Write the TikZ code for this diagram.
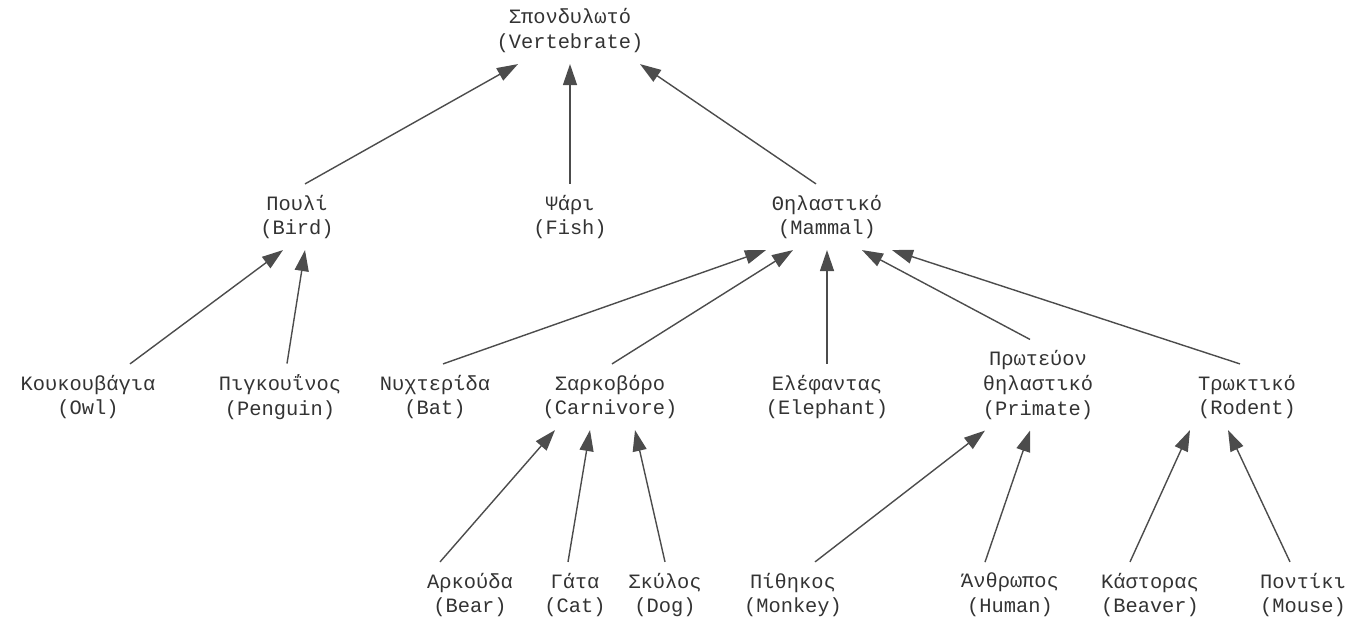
\documentclass[tikz,border=0pt]{standalone}
\usepackage{fontspec}
\setmonofont{Liberation Mono}
\usepackage{tikz}
\usetikzlibrary{arrows.meta, positioning}

\begin{document}
\begin{tikzpicture}[
    taxon/.style={align=center, inner sep=6pt, text=black!80, font=\ttfamily\fontsize{11.6}{14.2}\selectfont},
    line/.style={draw, black!70, line width=0.8pt, -{Triangle[length=4.2mm, width=2.8mm]}}]

    \useasboundingbox (0,0) rectangle (27,12.52);

    % Nodes
    \node [taxon] (vert) at (11.40,11.90) {Σπονδυλωτό\\(Vertebrate)};

    \node [taxon] (bird) at (5.94,8.18) {Πουλί\\(Bird)};
    \node [taxon] (fish) at (11.40,8.18) {Ψάρι\\(Fish)};
    \node [taxon] (mammal) at (16.54,8.18) {Θηλαστικό\\(Mammal)};

    \node [taxon] (owl) at (1.76,4.58) {Κουκουβάγια\\(Owl)};
    \node [taxon] (penguin) at (5.60,4.58) {Πιγκουΐνος\\(Penguin)};
    \node [taxon] (bat) at (8.70,4.58) {Νυχτερίδα\\(Bat)};
    \node [taxon] (carnivore) at (12.20,4.58) {Σαρκοβόρο\\(Carnivore)};
    \node [taxon] (elephant) at (16.54,4.58) {Ελέφαντας\\(Elephant)};
    \node [taxon] (primate) at (20.76,4.82) {Πρωτεύον\\θηλαστικό\\(Primate)};
    \node [taxon] (rodent) at (24.94,4.58) {Τρωκτικό\\(Rodent)};

    \node [taxon] (bear) at (9.40,0.62) {Αρκούδα\\(Bear)};
    \node [taxon] (cat) at (11.50,0.62) {Γάτα\\(Cat)};
    \node [taxon] (dog) at (13.30,0.62) {Σκύλος\\(Dog)};
    \node [taxon] (monkey) at (15.86,0.62) {Πίθηκος\\(Monkey)};
    \node [taxon] (human) at (20.20,0.62) {Άνθρωπος\\(Human)};
    \node [taxon] (beaver) at (23.00,0.62) {Κάστορας\\(Beaver)};
    \node [taxon] (mouse) at (26.06,0.62) {Ποντίκι\\(Mouse)};

    % Paths
    \path [line] ([xshift=0.16cm]bird.north) -- ([xshift=-1.04cm]vert.south);
    \path [line] (fish.north) -- (vert.south);
    \path [line] ([xshift=-0.22cm]mammal.north) -- ([xshift=1.40cm]vert.south);

    \path [line] ([xshift=0.84cm]owl.north) -- ([xshift=-0.28cm]bird.south);
    \path [line] ([xshift=0.14cm]penguin.north) -- ([xshift=0.16cm]bird.south);

    \path [line] ([xshift=0.16cm]bat.north) -- ([xshift=-1.22cm]mammal.south);
    \path [line] ([xshift=0.04cm]carnivore.north) -- ([xshift=-0.68cm]mammal.south);
    \path [line] (elephant.north) -- (mammal.south);
    \path [line] ([xshift=-0.16cm]primate.north) -- ([xshift=0.70cm]mammal.south);
    \path [line] ([xshift=-0.14cm]rodent.north) -- ([xshift=1.30cm]mammal.south);

    \path [line] ([xshift=-0.60cm]bear.north) -- ([xshift=-1.10cm]carnivore.south);
    \path [line] ([xshift=-0.14cm]cat.north) -- ([xshift=-0.40cm]carnivore.south);
    \path [line] (dog.north) -- ([xshift=0.50cm]carnivore.south);

    \path [line] ([xshift=0.44cm]monkey.north) -- ([xshift=-1.06cm]primate.south);
    \path [line] ([xshift=-0.50cm]human.north) -- ([xshift=-0.16cm]primate.south);

    \path [line] ([xshift=-0.40cm]beaver.north) -- ([xshift=-1.14cm]rodent.south);
    \path [line] ([xshift=-0.26cm]mouse.north) -- ([xshift=-0.38cm]rodent.south);

\end{tikzpicture}
\end{document}
